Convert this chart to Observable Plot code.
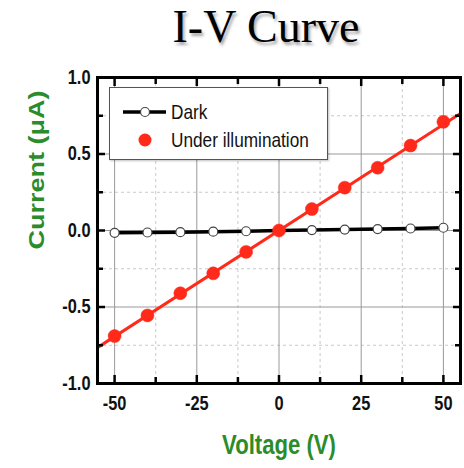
<!DOCTYPE html>
<html>
<head>
<meta charset="utf-8">
<script src="https://cdn.jsdelivr.net/npm/d3@7"></script>
<script src="https://cdn.jsdelivr.net/npm/@observablehq/plot@0.6"></script>
<style>
  html, body { margin: 0; padding: 0; background: #fff; }
  #wrap { position: relative; width: 464px; height: 468px; overflow: hidden; }
  #title { position: absolute; top: 0; left: 116px; width: 300px; text-align: center;
    font-family: "Liberation Serif", "Times New Roman", serif; font-size: 46px; line-height: normal;
    color: #000; text-shadow: 2px 3px 3px rgba(0,0,0,0.35); white-space: nowrap; }
  #chart { position: absolute; top: 60px; left: 0; }
  #legend { position: absolute; left: 109px; top: 87px; width: 217px; height: 71px;
    border: 1.5px solid #555; background: #fff; box-shadow: 1px 1px 2px rgba(0,0,0,0.25);
    font-family: "Liberation Sans", Arial, sans-serif; font-size: 21px; color: #111; }
  .row { position: absolute; left: 0; height: 24px; width: 217px; }
  .row svg { display: block; position: absolute; left: 0; top: 0; }
  .row span { position: absolute; left: 61px; top: 0; line-height: 24px; white-space: nowrap;
    transform: scaleX(0.82); transform-origin: 0 50%; }
</style>
</head>
<body>
<div id="wrap">
  <div id="title">I-V Curve</div>
  <div id="chart"></div>
  <div id="legend">
    <div class="row" style="top:12px;"><svg width="60" height="24"><line x1="13" y1="12" x2="56" y2="12" stroke="#000" stroke-width="3.5"/><circle cx="35" cy="12" r="4.5" fill="#fff" stroke="#444" stroke-width="1.2"/></svg><span>Dark</span></div>
    <div class="row" style="top:40px;"><svg width="60" height="24"><circle cx="35" cy="12" r="6.5" fill="#ff2a1a"/></svg><span>Under illumination</span></div>
  </div>
</div>
<script>
// Data
const voltage = [-50, -40, -30, -20, -10, 0, 10, 20, 30, 40, 50];
const darkCurrent = [-0.015, -0.013, -0.011, -0.008, -0.005, 0.0, 0.003, 0.006, 0.009, 0.013, 0.018];
const lightCurrent = [-0.69, -0.555, -0.41, -0.28, -0.14, 0.0, 0.14, 0.28, 0.41, 0.555, 0.71];
const fitVoltage = [-57, 57];
const fitCurrent = [-0.79, 0.79];
const xMajor = [-50, -25, 0, 25, 50];
const xMinor = [-37.5, -12.5, 12.5, 37.5];
const yMajor = [-1.0, -0.5, 0.0, 0.5, 1.0];
const yMinor = [-0.75, -0.25, 0.25, 0.75];
const xLabel = "Voltage (V)";
const yLabel = "Current (\u03bcA)";

const dark = voltage.map((v, i) => ({v, i: darkCurrent[i]}));
const light = voltage.map((v, i) => ({v, i: lightCurrent[i]}));
const fit = fitVoltage.map((v, i) => ({v, i: fitCurrent[i]}));

const sans = "'Liberation Sans', Arial, sans-serif";
const green = "#2b8c2b";
const red = "#ff2a1a";

const chart = Plot.plot({
  width: 464,
  height: 408,
  marginLeft: 97,
  marginRight: 4,
  marginTop: 17,
  marginBottom: 85,
  x: {domain: [-55.2, 55.2]},
  y: {domain: [-1, 1]},
  style: {background: "white"},
  marks: [
    Plot.gridX(xMinor, {stroke: "#bbb", strokeOpacity: 1, strokeDasharray: "3,3", strokeWidth: 0.8}),
    Plot.gridY(yMinor, {stroke: "#bbb", strokeOpacity: 1, strokeDasharray: "3,3", strokeWidth: 0.8}),
    Plot.gridX(xMajor, {stroke: "#999", strokeOpacity: 1, strokeWidth: 1}),
    Plot.gridY(yMajor, {stroke: "#999", strokeOpacity: 1, strokeWidth: 1}),
    Plot.line(fit, {x: "v", y: "i", stroke: red, strokeWidth: 3, clip: true}),
    Plot.line(dark, {x: "v", y: "i", stroke: "#000", strokeWidth: 3.5}),
    Plot.dot(dark, {x: "v", y: "i", r: 4.5, fill: "#fff", stroke: "#444", strokeWidth: 1.2}),
    Plot.dot(light, {x: "v", y: "i", r: 6.5, fill: red, stroke: red, strokeWidth: 0.5}),
    // inward ticks
    Plot.axisX(xMajor, {anchor: "bottom", tickSize: -8, strokeWidth: 2.5, tickFormat: () => "", label: null}),
    Plot.axisX(xMinor, {anchor: "bottom", tickSize: -6, strokeWidth: 2.5, tickFormat: () => "", label: null}),
    Plot.axisX(xMajor, {anchor: "top", tickSize: -8, strokeWidth: 2.5, tickFormat: () => "", label: null}),
    Plot.axisX(xMinor, {anchor: "top", tickSize: -6, strokeWidth: 2.5, tickFormat: () => "", label: null}),
    Plot.axisY(yMajor, {anchor: "left", tickSize: -8, strokeWidth: 2.5, tickFormat: () => "", label: null}),
    Plot.axisY(yMinor, {anchor: "left", tickSize: -6, strokeWidth: 2.5, tickFormat: () => "", label: null}),
    Plot.axisY(yMajor, {anchor: "right", tickSize: -8, strokeWidth: 2.5, tickFormat: () => "", label: null}),
    Plot.axisY(yMinor, {anchor: "right", tickSize: -6, strokeWidth: 2.5, tickFormat: () => "", label: null}),
    // tick labels
    Plot.axisX(xMajor, {anchor: "bottom", tickSize: 0, tickPadding: 12, tickFormat: d => String(d), fontSize: 20, fontWeight: "bold", fontFamily: sans, fill: "#111", label: null}),
    Plot.axisY(yMajor, {anchor: "left", tickSize: 0, tickPadding: 7, tickFormat: d => d.toFixed(1), fontSize: 20, fontWeight: "bold", fontFamily: sans, fill: "#111", label: null}),
    // axis labels
    Plot.text([xLabel], {text: d => d, frameAnchor: "bottom", dy: 62, lineAnchor: "middle", fontSize: 27, fontWeight: "bold", fontFamily: sans, fill: green}),
    Plot.text([yLabel], {text: d => d, frameAnchor: "left", dx: -61, dy: 19, rotate: -90, lineAnchor: "middle", fontSize: 27, fontWeight: "bold", fontFamily: sans, fill: green}),
    Plot.frame({stroke: "#000", strokeWidth: 3})
  ]
});

// Condense horizontal text (narrow face look of the reference)
const S = 0.82;
chart.querySelectorAll("text").forEach(t => {
  const tr = t.getAttribute("transform") || "";
  if (tr.includes("rotate")) {
    t.setAttribute("transform", tr.replace(/rotate\(([^)]*)\)/, `scale(${S},1) rotate($1)`));
    return;
  }
  if (!t.textContent) return;
  const x = t.getAttribute("x"), y = t.getAttribute("y");
  if (x != null || y != null) {
    const xx = +x || 0, yy = +y || 0;
    t.setAttribute("transform", `${tr} translate(${xx},${yy}) scale(${S},1) translate(${-xx},${-yy})`);
  } else {
    t.setAttribute("transform", `${tr} scale(${S},1)`);
  }
});
document.getElementById("chart").appendChild(chart);
</script>
</body>
</html>
